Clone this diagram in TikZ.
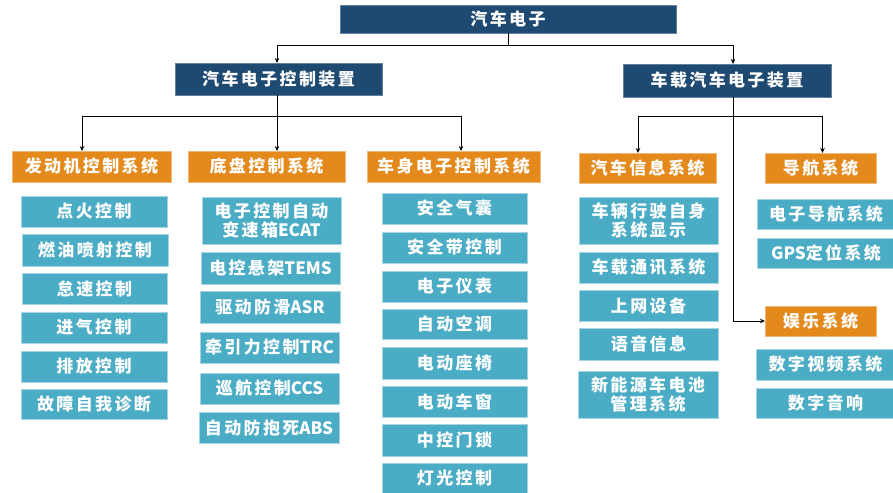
\documentclass[tikz,border=0pt]{standalone}
\usepackage{fontspec}
\newfontfamily\cjk[LetterSpace=14]{Noto Sans CJK SC}
\newfontfamily\lat{Noto Sans CJK SC}
\newcommand\la[1]{{\lat\bfseries #1}}
\usetikzlibrary{arrows.meta}
\definecolor{dkblue}{RGB}{30,73,113}
\definecolor{orng}{RGB}{228,137,28}
\definecolor{cyanbx}{RGB}{75,172,198}
\newcommand\mybox[7]{\node[#6, minimum width={(#4-#2)*1pt}, minimum height={(#5-#3)*1pt}] (#1) at ({(#2+#4)/2},{(#3+#5)/2}) {#7};}
\tikzset{
  base/.style={inner sep=0pt, outer sep=0pt, text=white, align=center, line width=0.8pt,
    font=\cjk\bfseries\fontsize{17}{19.5}\selectfont},
  topbx/.style={base, fill=dkblue, draw=dkblue!70!white},
  sysbx/.style={base, fill=orng, draw=orng!60!white},
  itembx/.style={base, fill=cyanbx, draw=cyanbx!50!white},
  conn/.style={line width=0.8pt, draw=black},
  arr/.style={conn, -{Stealth[length=5pt,width=4.5pt]}}
}
\begin{document}
\begin{tikzpicture}[x=1pt,y=-1pt]
\useasboundingbox (0,0) rectangle (893,492);
% top levels
\mybox{top}{340}{5}{676}{33}{topbx}{汽车电子}
\mybox{ctl}{175}{63}{382}{95}{topbx}{汽车电子控制装置}
\mybox{car}{623}{64}{831}{97}{topbx}{车载汽车电子装置}
% systems
\mybox{eng}{12}{151}{171}{182}{sysbx}{发动机控制系统}
\mybox{chas}{188}{151}{345}{182}{sysbx}{底盘控制系统}
\mybox{body}{367}{151}{540}{182}{sysbx}{车身电子控制系统}
\mybox{info}{579}{153}{716}{183}{sysbx}{汽车信息系统}
\mybox{nav}{765}{153}{876}{183}{sysbx}{导航系统}
\mybox{ent}{765}{306}{876}{336}{sysbx}{娱乐系统}
% engine items
\mybox{e1}{21}{196}{167}{227}{itembx}{点火控制}
\mybox{e2}{22}{234}{168}{266}{itembx}{燃油喷射控制}
\mybox{e3}{22}{273}{167}{304}{itembx}{怠速控制}
\mybox{e4}{21}{312}{167}{343}{itembx}{进气控制}
\mybox{e5}{21}{351}{167}{382}{itembx}{排放控制}
\mybox{e6}{21}{389}{167}{419}{itembx}{故障自我诊断}
% chassis items
\mybox{c1}{202}{197}{341}{244}{itembx}{电子控制自动\\变速箱\la{ECAT}}
\mybox{c2}{201}{252}{340}{284}{itembx}{电控悬架\la{TEMS}}
\mybox{c3}{200}{291}{340}{323}{itembx}{驱动防滑\la{ASR}}
\mybox{c4}{200}{332}{339}{363}{itembx}{牵引力控制\la{TRC}}
\mybox{c5}{200}{373}{339}{404}{itembx}{巡航控制\la{CCS}}
\mybox{c6}{199}{412}{339}{443}{itembx}{自动防抱死\la{ABS}}
% body items
\mybox{b1}{382}{193}{527}{224}{itembx}{安全气囊}
\mybox{b2}{382}{232}{527}{263}{itembx}{安全带控制}
\mybox{b3}{382}{271}{527}{302}{itembx}{电子仪表}
\mybox{b4}{382}{309}{527}{339}{itembx}{自动空调}
\mybox{b5}{382}{347}{527}{379}{itembx}{电动座椅}
\mybox{b6}{382}{386}{527}{417}{itembx}{电动车窗}
\mybox{b7}{382}{424}{527}{456}{itembx}{中控门锁}
\mybox{b8}{382}{463}{527}{494}{itembx}{灯光控制}
% info items
\mybox{i1}{579}{197}{718}{244}{itembx}{车辆行驶自身\\系统显示}
\mybox{i2}{579}{252}{718}{283}{itembx}{车载通讯系统}
\mybox{i3}{579}{290}{718}{321}{itembx}{上网设备}
\mybox{i4}{579}{328}{718}{360}{itembx}{语音信息}
\mybox{i5}{578}{371}{718}{418}{itembx}{新能源车电池\\管理系统}
% nav / entertainment items
\mybox{n1}{757}{199}{895}{229}{itembx}{电子导航系统}
\mybox{n2}{757}{238}{895}{268}{itembx}{\la{GPS}定位系统}
\mybox{v1}{756}{349}{895}{380}{itembx}{数字视频系统}
\mybox{v2}{756}{388}{895}{418}{itembx}{数字音响}
% connectors
\path (top.south) ++(0,12) coordinate (t1);
\draw[conn] (top.south) -- (t1);
\draw[arr] (t1) -| ([xshift=-1.5pt]ctl.north);
\draw[arr] (t1) -| ([xshift=6pt]car.north);
\path ([xshift=-1.5pt]ctl.south) ++(0,21) coordinate (k1);
\draw[arr] ([xshift=-1.5pt]ctl.south) -- ([xshift=-1.5pt]ctl.south |- chas.north);
\draw[arr] (k1) -| ([xshift=-9.5pt]eng.north);
\draw[arr] (k1) -| ([xshift=7.5pt]body.north);
\path ([xshift=6pt]car.south) ++(0,19) coordinate (k2);
\draw[arr] ([xshift=6pt]car.south) |- (ent.west);
\draw[arr] (k2) -| ([xshift=-9.5pt]info.north);
\draw[arr] (k2) -| ([xshift=2pt]nav.north);
\end{tikzpicture}
\end{document}
